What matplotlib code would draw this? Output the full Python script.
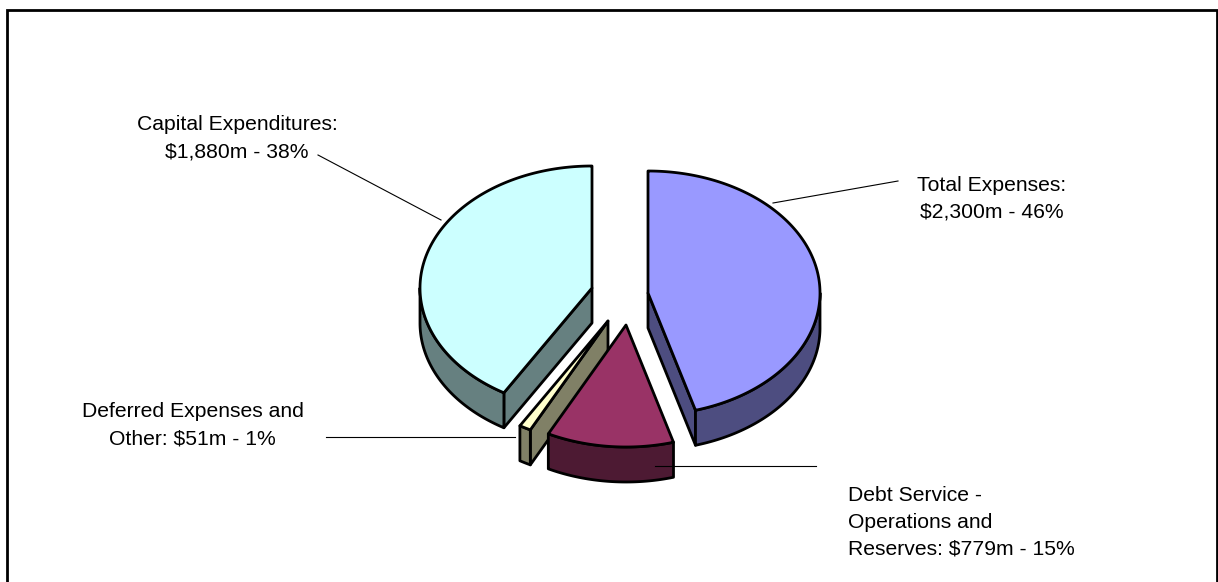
import numpy as np
import matplotlib
matplotlib.use("Agg")
import matplotlib.pyplot as plt
from matplotlib.patches import Polygon, Rectangle

plt.rcParams['font.family'] = ['Liberation Sans', 'DejaVu Sans']

# Data, clockwise from 12 o'clock
categories = ["Total Expenses", "Debt Service - Operations and Reserves",
              "Deferred Expenses and Other", "Capital Expenditures"]
values = [2300, 779, 51, 1880]
labels = ["Total Expenses:\n$2,300m - 46%",
          "Debt Service -\nOperations and\nReserves: $779m - 15%",
          "Deferred Expenses and\nOther: $51m - 1%",
          "Capital Expenditures:\n$1,880m - 38%"]

# Styles and layout (pixel space)
top_colors = ["#9999FF", "#993366", "#FFFFCC", "#CCFFFF"]
side_colors = ["#4D4D80", "#4D1A33", "#808066", "#668080"]
apex = [(648, 293), (626, 325), (608, 321), (592, 288)]
RX, RY, DEPTH = 172, 122, 35
label_pos = [(992, 218, 'center'), (848, 555, 'left'),
             (192.5, 444, 'center'), (237, 157, 'center')]
leaders = [((773, 203), (898, 181)), ((655, 466), (816, 466)),
           ((326, 437), (515, 437)), ((318, 155), (441, 220))]
LW = 2.0

W, H = 1218, 582
fig = plt.figure(figsize=(W / 100, H / 100), dpi=100)
ax = fig.add_axes([0, 0, 1, 1])
ax.set_xlim(0, W)
ax.set_ylim(H, 0)
ax.axis('off')

ax.add_patch(Rectangle((7, 10), 1210, 600, fc='white', ec='black', lw=2.0, zorder=0))


def warp(a):
    """Foreshortening of the slice angles in the tilted view of the pie."""
    return np.interp(a, [0, 165.3, 221.2, 224.9, 360], [0, 164, 206.8, 210.8, 360])


def rim(c, a0, a1, dy=0.0):
    t = np.radians(np.linspace(a0, a1, max(int(abs(a1 - a0)) * 2, 2)))
    return np.column_stack([c[0] + RX * np.sin(t), c[1] - RY * np.cos(t) + dy])


def poly(pts, color, z):
    ax.add_patch(Polygon(pts, closed=True, fc=color, ec='black', lw=LW,
                         joinstyle='round', zorder=z))


edges = np.concatenate([[0], np.cumsum(values) / np.sum(values) * 360])
draw_order = [3, 2, 1, 0]
z = 2
for i in draw_order:
    a0, a1 = warp(edges[i]), warp(edges[i + 1])
    c = np.array(apex[i], dtype=float)
    # cut faces facing the viewer
    for a, sgn in ((a0, -1), (a1, 1)):
        r = np.radians(a)
        if sgn * np.sin(r) > 1e-6:
            p = rim(c, a, a, 0)[0]
            poly([c, p, p + (0, DEPTH), c + (0, DEPTH)], side_colors[i], z)
    # outer wall
    lo, hi = max(a0, 90), min(a1, 270)
    if hi > lo:
        poly(np.vstack([rim(c, lo, hi), rim(c, hi, lo, DEPTH)]), side_colors[i], z)
    # top face
    poly(np.vstack([c, rim(c, a0, a1)]), top_colors[i], z + 0.5)
    z += 1

for (p, q) in leaders:
    ax.plot([p[0], q[0]], [p[1], q[1]], color='black', lw=0.8, zorder=10)

for lab, (x, y, ha) in zip(labels, label_pos):
    ax.text(x, y, lab, ha=ha, va='baseline', fontsize=15.2, color='black',
            linespacing=1.53, multialignment=ha, zorder=11)

fig.savefig('out.png', dpi=100, facecolor='white')
